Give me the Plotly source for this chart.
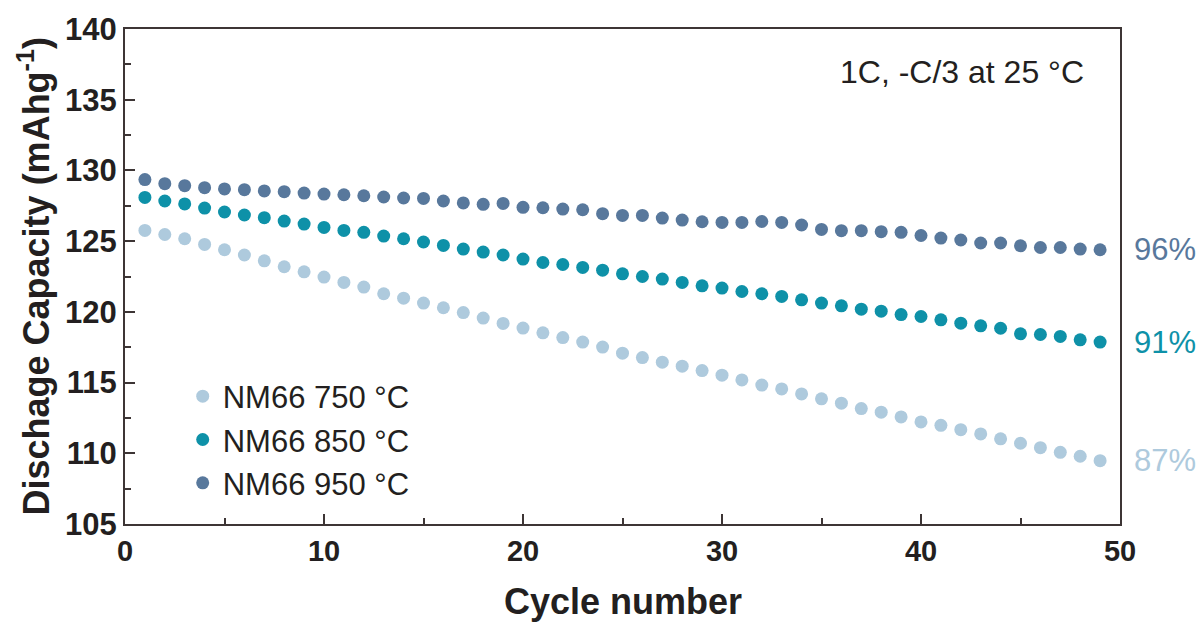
import plotly.graph_objects as go

cycles = list(range(1, 50))

cap_750 = [125.76, 125.47, 125.17, 124.77, 124.39, 124.02, 123.61, 123.19, 122.83, 122.46,
           122.08, 121.75, 121.28, 120.97, 120.62, 120.29, 119.95, 119.56, 119.18, 118.85,
           118.52, 118.18, 117.86, 117.51, 117.08, 116.77, 116.44, 116.16, 115.85, 115.52,
           115.19, 114.82, 114.55, 114.20, 113.85, 113.54, 113.16, 112.91, 112.57, 112.22,
           111.98, 111.67, 111.37, 111.02, 110.71, 110.40, 110.07, 109.79, 109.48]

cap_850 = [128.09, 127.84, 127.63, 127.34, 127.06, 126.85, 126.66, 126.42, 126.21, 125.97,
           125.76, 125.62, 125.36, 125.17, 124.94, 124.70, 124.44, 124.23, 124.02, 123.73,
           123.49, 123.35, 123.14, 122.95, 122.69, 122.50, 122.32, 122.08, 121.84, 121.68,
           121.44, 121.28, 121.09, 120.85, 120.62, 120.43, 120.19, 120.05, 119.81, 119.67,
           119.44, 119.20, 119.01, 118.84, 118.45, 118.40, 118.26, 118.02, 117.86]

cap_950 = [129.35, 129.06, 128.92, 128.78, 128.69, 128.64, 128.55, 128.50, 128.40, 128.33,
           128.28, 128.21, 128.12, 128.05, 128.02, 127.84, 127.70, 127.60, 127.67, 127.39,
           127.36, 127.27, 127.22, 126.94, 126.82, 126.82, 126.63, 126.49, 126.37, 126.32,
           126.32, 126.39, 126.32, 126.14, 125.83, 125.74, 125.74, 125.67, 125.62, 125.40,
           125.22, 125.08, 124.87, 124.87, 124.67, 124.55, 124.55, 124.44, 124.39]

names = ["NM66 750 °C", "NM66 850 °C", "NM66 950 °C"]
retention = ["87%", "91%", "96%"]
colors = ["#aecadd", "#0e91a8", "#58789c"]
series = [cap_750, cap_850, cap_950]

x_title = "<b>Cycle number</b>"
y_title = "<b>Dischage Capacity (mAhg<sup>-1</sup>)</b>"
condition = "1C, -C/3 at 25 °C"

fig = go.Figure()
for name, ys, col in zip(names, series, colors):
    fig.add_trace(go.Scatter(x=cycles, y=ys, mode="markers", name=name,
                             marker=dict(size=13, color=col, line=dict(width=0))))

for ys, lab, col in zip(series, retention, colors):
    fig.add_annotation(x=1.012, xref="paper", y=ys[-1], yref="y", text=lab,
                       showarrow=False, xanchor="left", yanchor="middle",
                       font=dict(family="Liberation Sans, Arial", size=31, color=col))

fig.add_annotation(x=0.841, xref="paper", y=0.913, yref="paper",
                   text=condition, showarrow=False,
                   xanchor="center", yanchor="middle",
                   font=dict(family="Liberation Sans, Arial", size=32, color="#231f20"))

fig.add_annotation(x=0.5, xref="paper", y=0, yref="paper", yshift=-77,
                   text=x_title, showarrow=False, xanchor="center", yanchor="middle",
                   font=dict(family="Liberation Sans, Arial", size=36, color="#231f20"))

fig.add_annotation(x=0, xref="paper", y=0.5, yref="paper", xshift=-92,
                   text=y_title, showarrow=False, xanchor="center", yanchor="middle",
                   textangle=-90,
                   font=dict(family="Liberation Sans, Arial", size=36, color="#231f20"))

axis_col = "#3d3535"
fig.update_layout(
    width=1203, height=622,
    margin=dict(l=125, r=83, t=29, b=98),
    paper_bgcolor="white", plot_bgcolor="white",
    showlegend=True,
    legend=dict(x=0.058, y=0.312, xanchor="left", yanchor="top",
                bgcolor="rgba(0,0,0,0)",
                font=dict(family="Liberation Sans, Arial", size=31, color="#231f20"),
                itemsizing="trace", tracegroupgap=0),
    xaxis=dict(range=[0, 50], tickvals=[0, 10, 20, 30, 40, 50], ticks="inside",
               ticklen=10, tickwidth=1.5, tickcolor=axis_col, automargin=False,
               minor=dict(dtick=5, ticks="inside", ticklen=6, tickwidth=1.5, tickcolor=axis_col),
               showline=True, linecolor=axis_col, linewidth=2, mirror=True,
               showgrid=False, zeroline=False,
               tickfont=dict(family="Liberation Sans Narrow, Liberation Sans, Arial", size=29,
                             color="#231f20", weight="bold")),
    yaxis=dict(range=[105, 140], tickvals=[105, 110, 115, 120, 125, 130, 135, 140],
               ticks="inside", ticklen=10, tickwidth=1.5, tickcolor=axis_col, automargin=False,
               minor=dict(dtick=2.5, ticks="inside", ticklen=6, tickwidth=1.5, tickcolor=axis_col),
               showline=True, linecolor=axis_col, linewidth=2, mirror=True,
               showgrid=False, zeroline=False,
               tickfont=dict(family="Liberation Sans, Arial", size=31, color="#231f20",
                             weight="bold")),
)

fig.write_html("out.html")
